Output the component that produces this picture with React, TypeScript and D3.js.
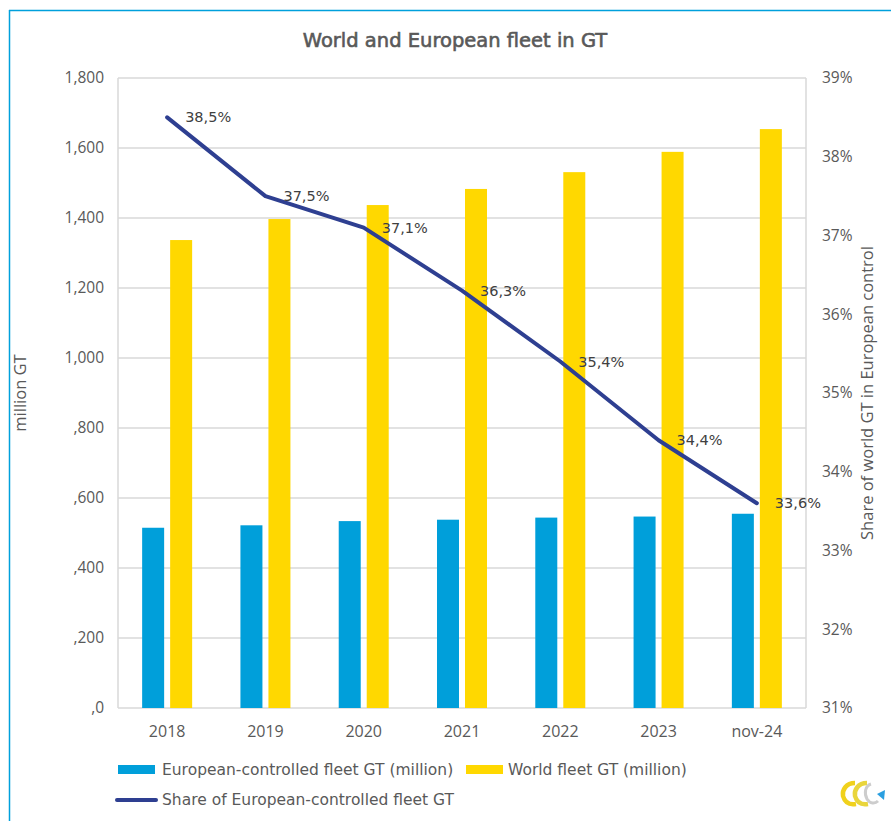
import React from "react";
import * as d3 from "d3";

const categories = ["2018", "2019", "2020", "2021", "2022", "2023", "nov-24"];
const europeanGT = [515, 522, 534, 538, 544, 547, 555];
const worldGT = [1337, 1397, 1437, 1483, 1531, 1589, 1654];
const sharePct = [38.5, 37.5, 37.1, 36.3, 35.4, 34.4, 33.6];
const leftTicks = [0, 200, 400, 600, 800, 1000, 1200, 1400, 1600, 1800];
const rightTicks = [31, 32, 33, 34, 35, 36, 37, 38, 39];
const leftTickLabels = [",0", ",200", ",400", ",600", ",800", "1,000", "1,200", "1,400", "1,600", "1,800"];

const W = 891, H = 821;
const plot = { left: 118, right: 806, top: 78, bottom: 708 };
const BLUE = "#009FDA";
const YELLOW = "#FFD800";
const NAVY = "#2E3F91";
const TEXT = "#595959";
const tickFont = "'Open Sans', 'Noto Sans', sans-serif";
const labelFont = "'DejaVu Sans', Verdana, sans-serif";

export default function App() {
  const x = d3.scaleBand<string>().domain(categories).range([plot.left, plot.right]);
  const yL = d3.scaleLinear().domain([0, 1800]).range([plot.bottom, plot.top]);
  const yR = d3.scaleLinear().domain([31, 39]).range([plot.bottom, plot.top]);
  const barW = 22;
  const gap = 3;
  const cx = (c: string) => (x(c) as number) + x.bandwidth() / 2;
  const line = d3
    .line<number>()
    .x((_, i) => cx(categories[i]))
    .y((d) => yR(d));

  return (
    <svg
      width={W}
      height={H}
      style={{ position: "fixed", left: 0, top: 0, background: "#fff" }}
    >
      <rect x={0} y={0} width={W} height={H} fill="#fff" />
      {/* frame */}
      <line x1={9} y1={10.5} x2={W} y2={10.5} stroke="#00A0DC" strokeWidth={1.5} />
      <line x1={9.5} y1={10} x2={9.5} y2={H} stroke="#00A0DC" strokeWidth={1.5} />

      {/* title */}
      <text
        x={455}
        y={47}
        textAnchor="middle"
        fontFamily={labelFont}
        fontSize={19.5}
        fill={TEXT}
        stroke={TEXT}
        strokeWidth={0.6}
      >
        World and European fleet in GT
      </text>

      {/* gridlines */}
      {leftTicks.map((t) => (
        <line
          key={"g" + t}
          x1={plot.left}
          x2={plot.right}
          y1={yL(t)}
          y2={yL(t)}
          stroke="#D9D9D9"
          strokeWidth={1.5}
        />
      ))}
      <line x1={plot.left} x2={plot.left} y1={plot.top} y2={plot.bottom} stroke="#D9D9D9" strokeWidth={1.5} />
      <line x1={plot.right} x2={plot.right} y1={plot.top} y2={plot.bottom} stroke="#D9D9D9" strokeWidth={1.5} />

      {/* left ticks */}
      {leftTicks.map((t, i) => (
        <text
          key={"l" + t}
          x={104}
          y={yL(t)}
          dy="0.35em"
          textAnchor="end"
          fontFamily={tickFont}
          fontSize={15.5}
          fill={TEXT}
        >
          {leftTickLabels[i]}
        </text>
      ))}
      {/* right ticks */}
      {rightTicks.map((t) => (
        <text
          key={"r" + t}
          x={822}
          y={yR(t)}
          dy="0.35em"
          textAnchor="start"
          fontFamily={tickFont}
          fontSize={15.5}
          fill={TEXT}
        >
          {t + "%"}
        </text>
      ))}

      {/* axis titles */}
      <text
        transform={`translate(26,393) rotate(-90)`}
        textAnchor="middle"
        fontFamily={tickFont}
        fontSize={16.5}
        fill={TEXT}
      >
        million GT
      </text>
      <text
        transform={`translate(873,393) rotate(-90)`}
        textAnchor="middle"
        fontFamily={tickFont}
        fontSize={16.5}
        fill={TEXT}
      >
        Share of world GT in European control
      </text>

      {/* bars */}
      {categories.map((c, i) => (
        <g key={"b" + c}>
          <rect
            x={cx(c) - gap - barW}
            y={yL(europeanGT[i])}
            width={barW}
            height={yL(0) - yL(europeanGT[i])}
            fill={BLUE}
          />
          <rect
            x={cx(c) + gap}
            y={yL(worldGT[i])}
            width={barW}
            height={yL(0) - yL(worldGT[i])}
            fill={YELLOW}
          />
        </g>
      ))}

      {/* category labels */}
      {categories.map((c) => (
        <text
          key={"c" + c}
          x={cx(c)}
          y={731}
          dy="0.35em"
          textAnchor="middle"
          fontFamily={tickFont}
          fontSize={16}
          fill={TEXT}
        >
          {c}
        </text>
      ))}

      {/* line */}
      <path
        d={line(sharePct) || ""}
        fill="none"
        stroke={NAVY}
        strokeWidth={4}
        strokeLinejoin="round"
        strokeLinecap="round"
      />
      {sharePct.map((v, i) => (
        <text
          key={"d" + i}
          x={cx(categories[i]) + 18}
          y={yR(v)}
          dy="0.35em"
          fontFamily={labelFont}
          fontSize={14.5}
          fill="#404040"
        >
          {v.toFixed(1).replace(".", ",") + "%"}
        </text>
      ))}

      {/* legend */}
      <rect x={118} y={765} width={37} height={9} fill={BLUE} />
      <text x={162} y={770} dy="0.35em" fontFamily={labelFont} fontSize={15.5} fill={TEXT}>
        European-controlled fleet GT (million)
      </text>
      <rect x={466} y={765} width={37} height={9} fill={YELLOW} />
      <text x={508} y={770} dy="0.35em" fontFamily={labelFont} fontSize={15.5} fill={TEXT}>
        World fleet GT (million)
      </text>
      <line x1={117} x2={156} y1={800} y2={800} stroke={NAVY} strokeWidth={4} strokeLinecap="round" />
      <text x={162} y={800} dy="0.35em" fontFamily={labelFont} fontSize={15.5} fill={TEXT}>
        Share of European-controlled fleet GT
      </text>

      {/* logo */}
      <g transform="translate(840,779)">
        <path d="M15,4 C6,4 2,11 3,17 C5,24 10,26 16,25" fill="none" stroke="#F0D11C" strokeWidth={4.5} />
        <path d="M27,4 C18,4 14,11 15,17 C17,24 22,26 28,25" fill="none" stroke="#E9D53C" strokeWidth={4.5} />
        <path d="M31,5 C25,7 24,14 27,20 C30,25 35,25 38,22" fill="none" stroke="#CDCDCD" strokeWidth={3} />
        <path d="M37,15 L45,11 L44,21 Z" fill="#2A9FE0" />
      </g>
    </svg>
  );
}
